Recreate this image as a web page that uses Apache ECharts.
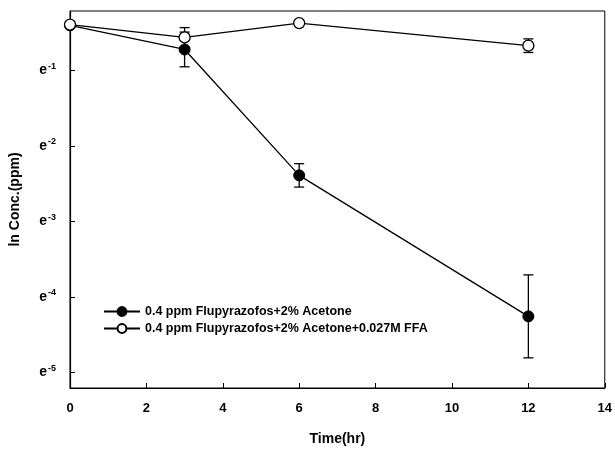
<!DOCTYPE html>
<html>
<head>
<meta charset="utf-8">
<script src="https://cdn.jsdelivr.net/npm/echarts@6/dist/echarts.min.js"></script>
<style>
  html, body { margin: 0; padding: 0; background: #fff; }
  #chart { width: 615px; height: 451px; }
</style>
</head>
<body>
<div id="chart"></div>
<script>
// 数据（纵轴为 ln 浓度）
var timeHr = [0, 3, 6, 12];
var acetoneLn = [-0.40, -0.72, -2.39, -4.26];
var acetoneErr = [0, 0.23, 0.155, 0.55];
var ffaLn = [-0.39, -0.56, -0.37, -0.67];
var ffaErr = [0, 0.13, 0, 0.09];
var xTicks = [0, 2, 4, 6, 8, 10, 12, 14];
var yTicks = [-5, -4, -3, -2, -1];
var seriesNames = ['0.4 ppm Flupyrazofos+2% Acetone', '0.4 ppm Flupyrazofos+2% Acetone+0.027M FFA'];

var font = 'Liberation Sans';

function pairs(ys) {
  return timeHr.map(function (t, i) { return [t, ys[i]]; });
}
function errData(ys, es) {
  return timeHr.map(function (t, i) { return [t, ys[i] - es[i], ys[i] + es[i]]; });
}
// 误差棒
function errorBar(params, api) {
  var lo = api.coord([api.value(0), api.value(1)]);
  var hi = api.coord([api.value(0), api.value(2)]);
  if (Math.abs(lo[1] - hi[1]) < 1) return null;
  var w = 5;
  var st = { stroke: '#000', lineWidth: 1.3 };
  return {
    type: 'group',
    children: [
      { type: 'line', shape: { x1: lo[0], y1: lo[1], x2: hi[0], y2: hi[1] }, style: st },
      { type: 'line', shape: { x1: lo[0] - w, y1: lo[1], x2: lo[0] + w, y2: lo[1] }, style: st },
      { type: 'line', shape: { x1: hi[0] - w, y1: hi[1], x2: hi[0] + w, y2: hi[1] }, style: st }
    ]
  };
}

var myChart = echarts.init(document.getElementById('chart'));

var option = {
  backgroundColor: '#fff',
  animation: false,
  textStyle: { fontFamily: font },
  grid: {
    left: 65, right: 10, top: 11, bottom: 63,
    show: true, borderColor: '#000', borderWidth: 1
  },
  legend: {
    orient: 'vertical',
    left: 98, top: 300,
    itemWidth: 36, itemHeight: 11, itemGap: 4,
    textStyle: { fontFamily: font, fontWeight: 'bold', fontSize: 12.5, color: '#000' },
    data: seriesNames
  },
  xAxis: {
    type: 'value', min: 0, max: 14, interval: 2,
    name: 'Time(hr)', nameLocation: 'middle', nameGap: 44,
    nameTextStyle: { fontFamily: font, fontWeight: 'bold', fontSize: 14, color: '#000' },
    axisLine: { lineStyle: { color: '#000', width: 1.2 } },
    axisTick: { inside: true, length: 5, lineStyle: { color: '#000' } },
    axisLabel: { margin: 14, fontFamily: font, fontWeight: 'bold', fontSize: 13, color: '#000', showMaxLabel: true },
    splitLine: { show: false }
  },
  yAxis: {
    type: 'value', min: -5.21, max: -0.21,
    name: 'ln Conc.(ppm)', nameLocation: 'middle', nameGap: 48,
    nameTextStyle: { fontFamily: font, fontWeight: 'bold', fontSize: 14, color: '#000' },
    axisLine: { lineStyle: { color: '#000', width: 1.2 } },
    axisTick: { inside: true, length: 5, lineStyle: { color: '#000' }, customValues: yTicks },
    axisLabel: {
      margin: 14, customValues: yTicks, color: '#000',
      formatter: function (v) { return '{b|e}{s|' + Math.round(v) + '}'; },
      rich: {
        b: { fontFamily: font, fontWeight: 'bold', fontSize: 14, color: '#000' },
        s: { fontFamily: font, fontWeight: 'bold', fontSize: 9, color: '#000', padding: [0, 0, 8, 1] }
      }
    },
    splitLine: { show: false }
  },
  series: [
    {
      name: seriesNames[0], type: 'line', data: pairs(acetoneLn),
      symbol: 'circle', symbolSize: 11,
      lineStyle: { color: '#000', width: 1.3 },
      itemStyle: { color: '#000', borderColor: '#000', borderWidth: 1 },
      z: 4
    },
    {
      name: seriesNames[1], type: 'line', data: pairs(ffaLn),
      symbol: 'circle', symbolSize: 11,
      lineStyle: { color: '#000', width: 1.3 },
      itemStyle: { color: '#fff', borderColor: '#000', borderWidth: 1.3 },
      z: 5
    },
    { type: 'custom', renderItem: errorBar, data: errData(acetoneLn, acetoneErr), z: 3 },
    { type: 'custom', renderItem: errorBar, data: errData(ffaLn, ffaErr), z: 3 }
  ]
};

myChart.setOption(option);
</script>
</body>
</html>
